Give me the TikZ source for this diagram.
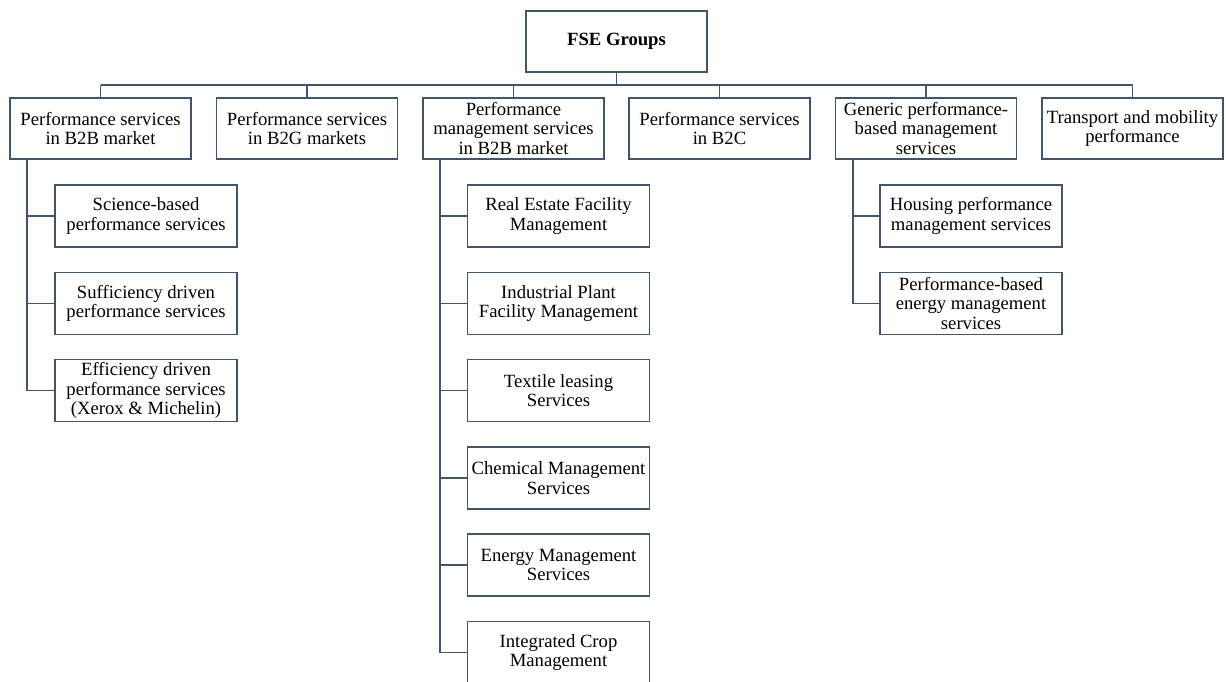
\documentclass[tikz,border=0pt]{standalone}
\usepackage{fontspec}
\setmainfont{Liberation Serif}
\definecolor{lc}{HTML}{44546A}
\begin{document}
\begin{tikzpicture}[x=0.75pt,y=-0.75pt,
  box/.style={draw=lc, line width=1.2pt, align=center, inner sep=1pt,
    minimum width=135.75pt, minimum height=45.75pt,
    font=\fontsize{14}{14.5}\selectfont},
  sub/.style={box, minimum width=136.5pt, minimum height=46.5pt},
  link/.style={draw=lc, line width=1.2pt}]
\useasboundingbox (0,0) rectangle (1226,681);
\clip (0,0) rectangle (1226,681);

% root
\node[box] (root) at (616.5,41.5) {\textbf{FSE Groups}};

% first level
\node[box] (a) at (100.5,128.5) {Performance services\\in B2B market};
\node[box] (b) at (307,128.5) {Performance services\\in B2G markets};
\node[box] (c) at (513.5,128.5) {Performance\\management services\\in B2B market};
\node[box] (d) at (719.5,128.5) {Performance services\\in B2C};
\node[box] (e) at (926,128.5) {Generic performance-\\based management\\services};
\node[box] (f) at (1132.5,128.5) {Transport and mobility\\performance};

% children of a
\node[sub] (a1) at (146,216) {Science-based\\performance services};
\node[sub] (a2) at (146,303.5) {Sufficiency driven\\performance services};
\node[sub] (a3) at (146,390.5) {Efficiency driven\\performance services\\(Xerox \& Michelin)};

% children of c
\node[sub] (c1) at (558.5,216) {Real Estate Facility\\Management};
\node[sub] (c2) at (558.5,303.5) {Industrial Plant\\Facility Management};
\node[sub] (c3) at (558.5,390.5) {Textile leasing\\Services};
\node[sub] (c4) at (558.5,478) {Chemical Management\\Services};
\node[sub] (c5) at (558.5,565) {Energy Management\\Services};
\node[sub] (c6) at (558.5,652.5) {Integrated Crop\\Management};

% children of e
\node[sub] (e1) at (971,216) {Housing performance\\management services};
\node[sub] (e2) at (971,303.5) {Performance-based\\energy management\\services};

% bus between root and first level
\coordinate (bus) at (0,85);
\draw[link] (root.south) -- (root.south |- bus);
\draw[link] (a.north |- bus) -- (f.north |- bus);
\foreach \n in {a,b,c,d,e,f}
  \draw[link] (\n.north) -- (\n.north |- bus);

% branch spines
\foreach \k in {a1,a2,a3}
  \draw[link] ([xshift=13.5pt]a.south west) |- (\k.west);
\foreach \k in {c1,c2,c3,c4,c5,c6}
  \draw[link] ([xshift=13.5pt]c.south west) |- (\k.west);
\foreach \k in {e1,e2}
  \draw[link] ([xshift=13.5pt]e.south west) |- (\k.west);
\end{tikzpicture}
\end{document}
